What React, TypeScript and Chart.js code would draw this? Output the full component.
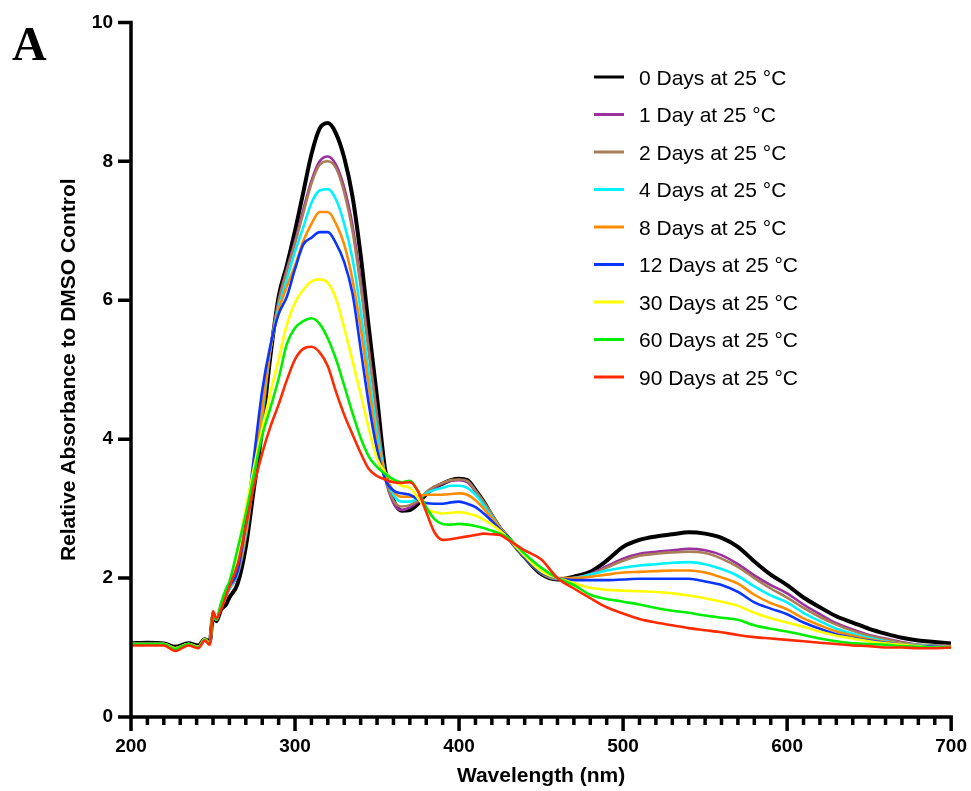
import React, { useEffect, useRef } from "react";
import { Chart, registerables } from "chart.js";

Chart.register(...registerables);

// Wavelength grid (nm)
const wavelengths = [
  200, 210, 220, 227, 235, 241, 245, 248, 250, 252, 255, 258,
  260, 265, 270, 275, 280, 285, 290, 295, 300, 305,
  310, 315, 320, 325, 330, 335, 340, 345, 350, 355,
  360, 365, 370, 375, 380, 385, 390, 395, 400, 405,
  410, 415, 420, 425, 430,
  440, 450, 460, 470, 480, 490, 500, 510, 520, 530, 540, 550, 560, 570,
  580, 590, 600, 610, 620, 630, 640, 650, 660, 670, 680, 690, 700,
];

const day0 = [
  1.06, 1.07, 1.06, 1.01, 1.06, 1.03, 1.12, 1.08, 1.45, 1.38, 1.55, 1.62,
  1.72, 1.92, 2.45, 3.3, 4.15, 5.2, 6.05, 6.5, 7.0, 7.55,
  8.1, 8.47, 8.55, 8.4, 8.05, 7.5, 6.65, 5.6, 4.6, 3.55,
  3.12, 2.97, 2.98, 3.07, 3.21, 3.3, 3.36, 3.41, 3.43, 3.41,
  3.27, 3.1, 2.9, 2.72, 2.58,
  2.3, 2.06, 1.98, 2.02, 2.09, 2.25, 2.45, 2.55, 2.6, 2.63, 2.66, 2.64, 2.58, 2.45,
  2.24, 2.05, 1.9, 1.72, 1.58, 1.45, 1.36, 1.27, 1.2, 1.14, 1.1, 1.08, 1.06,
];
const day1 = [
  1.05, 1.05, 1.05, 0.99, 1.05, 1.01, 1.12, 1.06, 1.5, 1.4, 1.6, 1.75,
  1.85, 2.05, 2.6, 3.45, 4.3, 5.3, 6.0, 6.45, 6.85, 7.3,
  7.72, 8.0, 8.07, 7.95, 7.62, 7.08, 6.28, 5.3, 4.35, 3.45,
  3.08, 2.98, 3.02, 3.1, 3.22, 3.3, 3.36, 3.4, 3.41, 3.38,
  3.25, 3.08, 2.9, 2.72, 2.58,
  2.3, 2.07, 1.98, 2.0, 2.06, 2.17, 2.28, 2.35, 2.38, 2.4, 2.42, 2.4, 2.33, 2.2,
  2.04, 1.9, 1.78, 1.62, 1.48, 1.35, 1.26, 1.18, 1.13, 1.08, 1.04, 1.03, 1.02,
];
const day2 = [
  1.05, 1.05, 1.05, 0.99, 1.05, 1.01, 1.12, 1.06, 1.5, 1.4, 1.6, 1.75,
  1.85, 2.05, 2.6, 3.45, 4.3, 5.3, 5.98, 6.42, 6.82, 7.25,
  7.68, 7.95, 8.0, 7.9, 7.55, 7.0, 6.2, 5.25, 4.3, 3.45,
  3.12, 3.03, 3.05, 3.12, 3.24, 3.32, 3.37, 3.41, 3.42, 3.4,
  3.26, 3.1, 2.92, 2.73, 2.58,
  2.3, 2.07, 1.99, 2.0, 2.05, 2.15, 2.25, 2.32, 2.35, 2.37, 2.38, 2.36, 2.28, 2.16,
  2.0, 1.85, 1.72, 1.57, 1.44, 1.33, 1.24, 1.17, 1.12, 1.07, 1.04, 1.03, 1.02,
];
const day4 = [
  1.05, 1.05, 1.05, 0.99, 1.05, 1.01, 1.12, 1.06, 1.5, 1.4, 1.6, 1.75,
  1.85, 2.08, 2.65, 3.5, 4.4, 5.3, 5.9, 6.3, 6.7, 7.05,
  7.4, 7.58, 7.6, 7.45, 7.1, 6.6, 5.85, 4.95, 4.1, 3.5,
  3.2, 3.1, 3.1, 3.15, 3.22, 3.27, 3.3, 3.33, 3.33, 3.3,
  3.2, 3.05, 2.88, 2.72, 2.58,
  2.3, 2.08, 1.99, 2.0, 2.05, 2.11, 2.15, 2.18, 2.2, 2.22, 2.23, 2.2, 2.13, 2.03,
  1.88, 1.75, 1.65, 1.5, 1.38, 1.27, 1.2, 1.14, 1.09, 1.05, 1.03, 1.02, 1.01,
];
const day8 = [
  1.05, 1.05, 1.05, 0.99, 1.05, 1.01, 1.12, 1.06, 1.5, 1.4, 1.62, 1.78,
  1.88, 2.1, 2.7, 3.55, 4.45, 5.3, 5.85, 6.2, 6.5, 6.85,
  7.1, 7.27, 7.27, 7.1, 6.8, 6.3, 5.6, 4.75, 3.95, 3.5,
  3.25, 3.17, 3.17, 3.18, 3.2, 3.2, 3.2, 3.21, 3.22, 3.2,
  3.12, 3.0, 2.86, 2.72, 2.58,
  2.3, 2.08, 2.0, 2.0, 2.02, 2.05, 2.08, 2.09, 2.1, 2.11, 2.11, 2.08, 2.01, 1.92,
  1.76, 1.64, 1.55, 1.42, 1.32, 1.23, 1.17, 1.12, 1.08, 1.05, 1.02, 1.01, 1.01,
];
const day12 = [
  1.05, 1.05, 1.05, 0.99, 1.05, 1.01, 1.12, 1.06, 1.5, 1.4, 1.62, 1.78,
  1.88, 2.1, 2.8, 3.75, 4.7, 5.35, 5.8, 6.05, 6.45, 6.8,
  6.9, 6.98, 6.98, 6.82, 6.55, 6.1, 5.3, 4.5, 3.85, 3.42,
  3.26, 3.22, 3.2, 3.13, 3.08, 3.07, 3.07, 3.09, 3.1, 3.07,
  3.02, 2.93, 2.82, 2.7, 2.58,
  2.3, 2.08, 2.0, 1.97, 1.97, 1.97, 1.98, 1.99, 1.99, 1.99, 1.99, 1.95, 1.9, 1.8,
  1.65, 1.56, 1.48, 1.36, 1.27, 1.19, 1.14, 1.1, 1.07, 1.04, 1.02, 1.01, 1.0,
];
const day30 = [
  1.05, 1.05, 1.05, 0.99, 1.05, 1.01, 1.12, 1.06, 1.5, 1.4, 1.62, 1.8,
  1.9, 2.4, 3.0, 3.6, 4.15, 4.67, 5.15, 5.65, 5.97, 6.15,
  6.27, 6.3, 6.25, 6.02, 5.6, 5.13, 4.65, 4.15, 3.72, 3.52,
  3.4, 3.33, 3.3, 3.15, 3.0, 2.95, 2.93, 2.94, 2.95, 2.93,
  2.9, 2.84, 2.77, 2.68, 2.57,
  2.32, 2.1, 2.0, 1.93, 1.86, 1.83, 1.82, 1.81, 1.8, 1.78, 1.75, 1.71, 1.66, 1.6,
  1.5, 1.42, 1.36, 1.3, 1.23, 1.17, 1.13, 1.09, 1.06, 1.04, 1.02, 1.0, 1.0,
];
const day60 = [
  1.05, 1.05, 1.05, 0.98, 1.05, 1.0, 1.11, 1.05, 1.5, 1.4, 1.65, 1.85,
  1.95, 2.42, 2.92, 3.5, 4.05, 4.45, 4.87, 5.37, 5.6, 5.7,
  5.74, 5.66, 5.45, 5.15, 4.77, 4.38, 4.02, 3.75, 3.6, 3.5,
  3.42, 3.38, 3.4, 3.25, 3.02, 2.85, 2.78, 2.77, 2.78, 2.77,
  2.75, 2.72, 2.68, 2.64, 2.58,
  2.35, 2.15, 2.0, 1.9, 1.76, 1.7, 1.66, 1.62, 1.57, 1.53, 1.5, 1.46, 1.43, 1.4,
  1.32, 1.27, 1.23, 1.18, 1.13, 1.09, 1.06, 1.05, 1.04, 1.02, 1.01, 1.0, 1.0,
];
const day90 = [
  1.03, 1.03, 1.03, 0.95, 1.03, 0.99, 1.1, 1.04, 1.52, 1.42, 1.55, 1.75,
  1.88, 2.2, 2.75, 3.33, 3.8, 4.18, 4.5, 4.85, 5.15, 5.3,
  5.33, 5.25, 5.05, 4.68, 4.35, 4.07, 3.8, 3.57, 3.47, 3.42,
  3.38, 3.37, 3.38, 3.25, 2.95, 2.66, 2.55, 2.56, 2.58, 2.6,
  2.62, 2.64, 2.63, 2.62, 2.55,
  2.4, 2.27, 2.0, 1.85, 1.71, 1.58, 1.49, 1.41, 1.36, 1.32, 1.28, 1.25, 1.22, 1.18,
  1.15, 1.13, 1.11, 1.09, 1.07, 1.05, 1.03, 1.02, 1.0, 1.0, 0.99, 0.99, 1.0,
];

const seriesLabels = [
  "0 Days at 25 °C",
  "1 Day at 25 °C",
  "2 Days at 25 °C",
  "4 Days at 25 °C",
  "8 Days at 25 °C",
  "12 Days at 25 °C",
  "30 Days at 25 °C",
  "60 Days at 25 °C",
  "90 Days at 25 °C",
];
const seriesValues = [day0, day1, day2, day4, day8, day12, day30, day60, day90];
const seriesColors = [
  "#000000",
  "#9b309f",
  "#a97d55",
  "#00f2ff",
  "#ff8c00",
  "#0a35ff",
  "#ffff00",
  "#00ee00",
  "#ff2a00",
];

const xMin = 200;
const xMax = 700;
const xMajorStep = 100;
const xMinorStep = 10;
const yMin = 0;
const yMax = 10;
const yStep = 2;

const xTitle = "Wavelength (nm)";
const yTitle = "Relative Absorbance to DMSO Control";
const panelLetter = "A";

const SANS = '"Liberation Sans", Arial, Helvetica, sans-serif';
const SERIF = '"Liberation Serif", "Times New Roman", serif';

// canvas is shifted up by SHIFT_Y px inside a clipping container
const SHIFT_Y = 7;

const axesPlugin = {
  id: "axesPlugin",
  afterDraw(chart: any) {
    const ctx = chart.ctx;
    const xs = chart.scales.x;
    const ys = chart.scales.y;
    const left = xs.getPixelForValue(xMin);
    const right = xs.getPixelForValue(xMax);
    const bottom = ys.getPixelForValue(yMin);
    const top = ys.getPixelForValue(yMax);
    ctx.save();
    ctx.strokeStyle = "#000";
    ctx.lineWidth = 3.5;
    ctx.lineCap = "butt";
    ctx.beginPath();
    ctx.moveTo(left, top - 1.75);
    ctx.lineTo(left, bottom + 1.75);
    ctx.moveTo(left - 1.75, bottom);
    ctx.lineTo(right + 1.75, bottom);
    for (let v = yMin; v <= yMax; v += yStep) {
      const py = ys.getPixelForValue(v);
      ctx.moveTo(left - 13, py);
      ctx.lineTo(left, py);
    }
    for (let v = xMin; v <= xMax; v += xMinorStep) {
      const px = xs.getPixelForValue(v);
      const len = v % xMajorStep === 0 ? 14 : 8;
      ctx.moveTo(px, bottom);
      ctx.lineTo(px, bottom + len);
    }
    ctx.stroke();

    // panel letter
    ctx.fillStyle = "#000";
    ctx.font = `bold 48px ${SERIF}`;
    ctx.textAlign = "left";
    ctx.textBaseline = "alphabetic";
    ctx.fillText(panelLetter, 12, 60 + SHIFT_Y);

    // legend
    const legX = 594;
    const legY0 = 77 + SHIFT_Y;
    const legDy = 37.5;
    ctx.font = `21px ${SANS}`;
    chart.data.datasets.forEach((ds: any, i: number) => {
      const yy = legY0 + i * legDy;
      ctx.strokeStyle = ds.borderColor;
      ctx.lineWidth = 3;
      ctx.beginPath();
      ctx.moveTo(legX, yy);
      ctx.lineTo(legX + 30, yy);
      ctx.stroke();
      ctx.fillStyle = "#000";
      ctx.fillText(ds.label, legX + 45, yy + 7.5);
    });
    ctx.restore();
  },
};

export default function App() {
  const canvasRef = useRef<HTMLCanvasElement | null>(null);

  useEffect(() => {
    const canvas = canvasRef.current;
    if (!canvas) return;
    const datasets = seriesValues.map((vals, i) => ({
      label: seriesLabels[i],
      data: wavelengths.map((w, j) => ({ x: w, y: vals[j] })),
      borderColor: seriesColors[i],
      backgroundColor: seriesColors[i],
      borderWidth: i === 0 ? 4 : 2.6,
      pointRadius: 0,
      cubicInterpolationMode: "monotone" as const,
      fill: false,
      order: seriesValues.length - i,
    }));

    const chart = new Chart(canvas, {
      type: "line",
      data: { datasets },
      options: {
        animation: false,
        responsive: false,
        maintainAspectRatio: false,
        layout: { padding: { top: 21, right: 20, left: 0, bottom: 0 } },
        plugins: {
          legend: { display: false },
          tooltip: { enabled: false },
        },
        scales: {
          x: {
            type: "linear",
            min: xMin,
            max: xMax,
            grid: { display: false, drawTicks: false },
            border: { display: false },
            ticks: {
              stepSize: xMajorStep,
              padding: 18,
              color: "#000",
              font: { family: SANS, size: 19, weight: "bold" },
              maxRotation: 0,
            },
            title: {
              display: true,
              text: xTitle,
              color: "#000",
              font: { family: SANS, size: 21, weight: "bold" },
              padding: { top: 0, bottom: 2 },
            },
            afterFit: (scale: any) => {
              scale.height = 74;
            },
          },
          y: {
            type: "linear",
            min: yMin,
            max: yMax,
            grid: { display: false, drawTicks: false },
            border: { display: false },
            ticks: {
              stepSize: yStep,
              padding: 18,
              color: "#000",
              font: { family: SANS, size: 19, weight: "bold" },
            },
            title: {
              display: true,
              text: yTitle,
              color: "#000",
              font: { family: SANS, size: 21, weight: "bold" },
              padding: { top: 57, bottom: 0 },
            },
            afterFit: (scale: any) => {
              scale.width = 131;
            },
          },
        },
      },
      plugins: [axesPlugin],
    });
    return () => chart.destroy();
  }, []);

  return (
    <div
      style={{
        position: "absolute",
        left: 0,
        top: 0,
        width: 971,
        height: 791,
        overflow: "hidden",
        background: "#fff",
      }}
    >
      <canvas
        ref={canvasRef}
        width={985}
        height={791 + SHIFT_Y}
        style={{ display: "block", position: "absolute", left: 0, top: -SHIFT_Y }}
      />
    </div>
  );
}
